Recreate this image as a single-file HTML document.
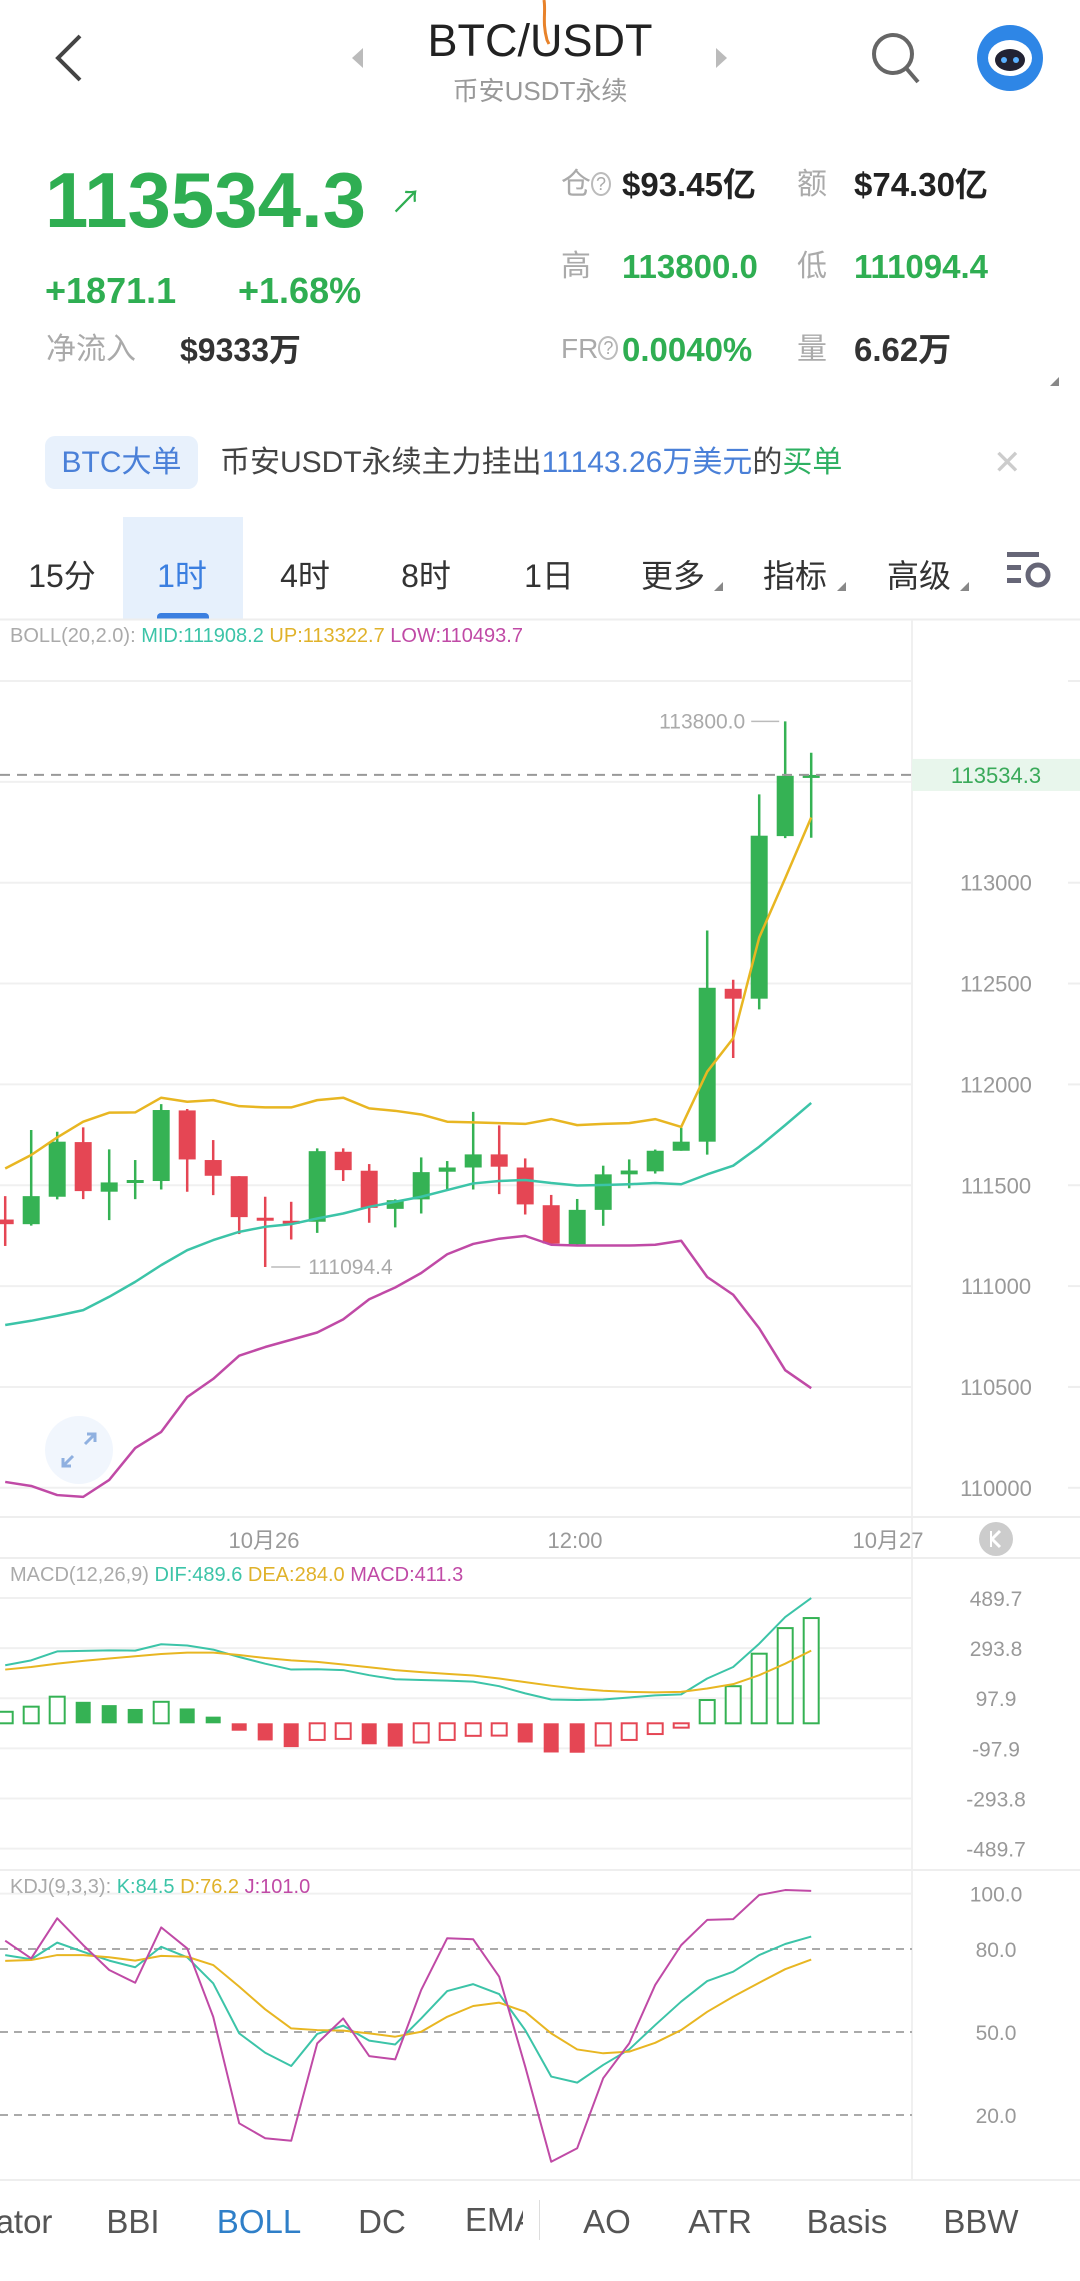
<!DOCTYPE html>
<html><head><meta charset="utf-8">
<style>
*{margin:0;padding:0;box-sizing:border-box}
body{width:1080px;height:2281px;background:#fff;position:relative;overflow:hidden;font-family:"Liberation Sans","Noto Sans CJK SC",sans-serif;color:#333}
.a{position:absolute;white-space:nowrap;line-height:1}
.g{color:#2fae52}
.lbl{color:#aaa}
.b{font-weight:bold}
.tab{position:absolute;top:551px;font-size:32px;color:#333;transform:translateX(-50%)}
.btab{position:absolute;top:2203px;font-size:33px;color:#555;transform:translateX(-50%)}
.tri{position:absolute;width:0;height:0;border-left:9px solid transparent;border-bottom:9px solid #888}
</style></head><body>
<svg class="a" style="left:0;top:0" width="1080" height="130">
  <polyline points="80,36 58,58 80,80" fill="none" stroke="#444" stroke-width="4"/>
  <polygon points="363,48 352,58 363,68" fill="#bbb"/>
  <polygon points="716,48 727,58 716,68" fill="#bbb"/>
  <path d="M544,0 C546,12 542,22 547,40 L549,44" stroke="#e8822a" stroke-width="3" fill="none"/>
  <g><circle cx="893" cy="54" r="19" fill="none" stroke="#666" stroke-width="4"/><line x1="906" y1="68" x2="918" y2="82" stroke="#666" stroke-width="4"/></g>
  <g><circle cx="1010" cy="58" r="33" fill="#2e86e6"/><ellipse cx="1010" cy="58" rx="22" ry="18" fill="#fff"/><ellipse cx="1010" cy="60" rx="15" ry="11" fill="#223"/><circle cx="1004" cy="60" r="3" fill="#5ab0ff"/><circle cx="1016" cy="60" r="3" fill="#5ab0ff"/></g>
</svg>
<div class="a" style="left:0;width:1080px;text-align:center;top:18px;font-size:45px;color:#222">BTC/USDT</div>
<div class="a" style="left:0;width:1080px;text-align:center;top:78px;font-size:26px;color:#999">币安USDT永续</div>

<div class="a g b" style="left:45px;top:161px;font-size:78px">113534.3</div>
<div class="a g" style="left:390px;top:186px;font-size:32px">↗</div>
<div class="a g b" style="left:45px;top:273px;font-size:36px">+1871.1</div>
<div class="a g b" style="left:238px;top:273px;font-size:36px">+1.68%</div>
<div class="a lbl" style="left:46px;top:335px;font-size:30px">净流入</div>
<div class="a b" style="left:180px;top:334px;font-size:32px;color:#333">$9333万</div>

<div class="a lbl" style="left:561px;top:170px;font-size:30px">仓<span style="font-size:18px;border:2px solid #bbb;border-radius:50%;padding:0 3px;vertical-align:4px">?</span></div>
<div class="a b" style="left:622px;top:168px;font-size:33px;color:#222">$93.45亿</div>
<div class="a lbl" style="left:797px;top:170px;font-size:30px">额</div>
<div class="a b" style="left:854px;top:168px;font-size:33px;color:#222">$74.30亿</div>
<div class="a lbl" style="left:561px;top:252px;font-size:30px">高</div>
<div class="a g b" style="left:622px;top:250px;font-size:33px">113800.0</div>
<div class="a lbl" style="left:797px;top:252px;font-size:30px">低</div>
<div class="a g b" style="left:854px;top:250px;font-size:33px">111094.4</div>
<div class="a lbl" style="left:561px;top:335px;font-size:28px">FR<span style="font-size:18px;border:2px solid #bbb;border-radius:50%;padding:0 3px;vertical-align:4px">?</span></div>
<div class="a g b" style="left:622px;top:333px;font-size:33px">0.0040%</div>
<div class="a lbl" style="left:797px;top:335px;font-size:30px">量</div>
<div class="a b" style="left:854px;top:333px;font-size:33px;color:#333">6.62万</div>
<div class="tri" style="left:1050px;top:377px"></div>

<div class="a" style="left:45px;top:436px;width:153px;height:53px;background:#e8f1fc;border-radius:10px;color:#4a80d8;font-size:30px;line-height:53px;text-align:center">BTC大单</div>
<div class="a" style="left:220px;top:448px;font-size:30px;color:#444">币安USDT永续主力挂出<span style="color:#4a80d8">11143.26万美元</span>的<span style="color:#2eb062">买单</span></div>
<div class="a" style="left:993px;top:446px;font-size:34px;color:#ccc">✕</div>

<div class="a" style="left:123px;top:517px;width:120px;height:103px;background:#e6f0fc"></div>
<div class="a" style="left:157px;top:613px;width:52px;height:7px;background:#3b7fe0;border-radius:4px 4px 0 0"></div>
<div class="tab" style="left:62px">15分</div>
<div class="tab" style="left:182px;color:#3b7fe0">1时</div>
<div class="tab" style="left:305px">4时</div>
<div class="tab" style="left:426px">8时</div>
<div class="tab" style="left:549px">1日</div>
<div class="tab" style="left:673px">更多</div>
<div class="tab" style="left:795px">指标</div>
<div class="tab" style="left:919px">高级</div>
<div class="tri" style="left:714px;top:582px"></div>
<div class="tri" style="left:837px;top:582px"></div>
<div class="tri" style="left:960px;top:582px"></div>
<svg class="a" style="left:1005px;top:550px" width="50" height="40">
  <rect x="2" y="2" width="32" height="5" fill="#667"/><rect x="2" y="15" width="14" height="5" fill="#667"/><rect x="2" y="28" width="14" height="5" fill="#667"/>
  <circle cx="33" cy="25" r="10" fill="none" stroke="#667" stroke-width="5"/>
</svg>

<svg id="chart" class="a" style="left:0;top:0" width="1080" height="2281">
  <line x1="0" y1="619.5" x2="1080" y2="619.5" stroke="#eee" stroke-width="2"/>
  <line x1="912" y1="620" x2="912" y2="2180" stroke="#f0f0f0" stroke-width="2"/>
  <line x1="0" y1="1517" x2="1080" y2="1517" stroke="#eee" stroke-width="2"/>
  <line x1="0" y1="1558" x2="1080" y2="1558" stroke="#eee" stroke-width="2"/>
  <line x1="0" y1="1870" x2="1080" y2="1870" stroke="#eee" stroke-width="2"/>
  <line x1="0" y1="2180" x2="1080" y2="2180" stroke="#eee" stroke-width="2"/>
  <g id="grid"></g><g id="marks"></g>
  <text x="10" y="642" font-size="20" fill="#aaa">BOLL(20,2.0): <tspan fill="#3cc4a8">MID:111908.2</tspan> <tspan fill="#e0b22a">UP:113322.7</tspan> <tspan fill="#c04aa6">LOW:110493.7</tspan></text>
  <text x="10" y="1581" font-size="20" fill="#aaa">MACD(12,26,9) <tspan fill="#3cc4a8">DIF:489.6</tspan> <tspan fill="#e0b22a">DEA:284.0</tspan> <tspan fill="#c04aa6">MACD:411.3</tspan></text>
  <text x="10" y="1893" font-size="20" fill="#aaa">KDJ(9,3,3): <tspan fill="#3cc4a8">K:84.5</tspan> <tspan fill="#e0b22a">D:76.2</tspan> <tspan fill="#c04aa6">J:101.0</tspan></text>
  <text x="264" y="1548" font-size="22" fill="#999" text-anchor="middle">10月26</text>
  <text x="575" y="1548" font-size="22" fill="#999" text-anchor="middle">12:00</text>
  <text x="888" y="1548" font-size="22" fill="#999" text-anchor="middle">10月27</text>
  <g><circle cx="996" cy="1539" r="17" fill="#ccc"/><polyline points="1000,1531 992,1539 1000,1547" fill="none" stroke="#fff" stroke-width="3"/><line x1="991" y1="1531" x2="991" y2="1547" stroke="#fff" stroke-width="2"/></g>
  <g><circle cx="79" cy="1450" r="34" fill="#eef4fc" opacity="0.8"/><path d="M87,1434 L95,1434 L95,1442 M95,1434 L85,1444 M71,1466 L63,1466 L63,1458 M63,1466 L73,1456" stroke="#8fb0e0" stroke-width="3" fill="none"/></g>
</svg>

<div class="btab" style="left:24px">ator</div>
<div class="btab" style="left:133px">BBI</div>
<div class="btab" style="left:259px;color:#2f7fc8">BOLL</div>
<div class="btab" style="left:382px">DC</div>
<div class="a" style="left:465px;top:2203px;width:58px;overflow:hidden;font-size:33px;color:#555">EMA</div>
<div class="a" style="left:539px;top:2200px;width:1px;height:40px;background:#ddd"></div>
<div class="btab" style="left:607px">AO</div>
<div class="btab" style="left:720px">ATR</div>
<div class="btab" style="left:847px">Basis</div>
<div class="btab" style="left:981px">BBW</div>

<script>
const opens=[111330,111307,111443,111714,111468,111521,111521,111871,111625,111545,111339,111324,111319,111666,111572,111383,111430,111567,111588,111653,111588,111401,111207,111378,111554,111569,111671,111716,112474,112425,113231,113530];
const closes=[111307,111446,111716,111471,111514,111526,111873,111628,111547,111342,111324,111314,111669,111575,111388,111426,111565,111588,111653,111592,111405,111211,111378,111554,111573,111671,111716,112479,112425,113233,113530,113534.3];
const highs=[111446,111774,111765,111787,111678,111625,111902,111878,111724,111545,111443,111418,111683,111683,111605,111430,111638,111620,111864,111797,111633,111452,111432,111597,111628,111677,111785,112763,112519,113438,113800,113644];
const lows=[111199,111300,111430,111431,111327,111431,111479,111468,111451,111258,111094.4,111231,111264,111521,111314,111291,111360,111473,111479,111456,111355,111205,111201,111299,111485,111558,111671,111652,112131,112372,113221,113223];
const bollUp=[111583,111650,111737,111815,111860,111861,111934,111914,111922,111892,111886,111886,111922,111934,111881,111869,111851,111815,111812,111808,111804,111828,111798,111804,111808,111828,111789,112063,112229,112728,113022,113323];
const bollMid=[110807,110828,110853,110881,110947,111021,111104,111178,111228,111269,111294,111307,111335,111360,111393,111418,111443,111476,111509,111521,111526,111511,111499,111501,111505,111511,111505,111554,111597,111691,111798,111908];
const bollLow=[110029,110009,109964,109955,110039,110197,110277,110450,110540,110655,110698,110734,110770,110835,110935,110993,111065,111158,111209,111235,111249,111205,111201,111201,111201,111205,111225,111045,110957,110791,110583,110494];
const macdHist=[45,65,104,84,71,56,84,58,26,-29,-67,-93,-65,-61,-82,-91,-75,-65,-49,-48,-75,-114,-115,-87,-65,-42,-17,91,145,272,372,411.3];
const difVals=[227,246,281,283,285,284,309,304,288,259,233,210,211,208,188,172,169,167,163,145,117,93,91,93,101,109,113,175,220,311,415,489.6];
const deaVals=[210,220,233,244,253,262,271,276,276,267,255,246,240,230,219,208,200,193,187,175,161,147,135,127,123,121,123,136,153,188,233,284];
const kVals=[77.8,76.3,82.3,79,75.8,73.4,80.8,77,67.6,49.5,42.5,37.7,49.3,52.3,46.9,45.5,54.9,64.8,67.3,63.7,50.7,33.9,31.7,38.1,43.7,52.5,61,68.4,71.8,77.8,81.8,84.5];
const dVals=[75.7,76,77.8,77.8,77,75.8,77.5,77.2,74.2,66.4,58.2,51.3,50.7,50.5,49.5,48.3,50.1,55.5,59.4,60.6,57.3,49.5,43.7,42.3,42.9,46.1,50.7,57.3,62.8,67.8,72.7,76.2];
const jVals=[83,76.6,91.1,81.4,72.4,67.8,87.8,80.2,55.5,17,11.6,10.7,45.9,54.9,41.3,40.1,65.2,83.9,83.5,70,37.5,3.1,8,33.3,45.9,67,81.4,90.5,90.8,99.5,101.3,101];
const priceTicks=[114000,113500,113000,112500,112000,111500,111000,110500,110000];
const priceTickLabels=["","","113000","112500","112000","111500","111000","110500","110000"];
const macdTicks=[489.7,293.8,97.9,-97.9,-293.8,-489.7];
const macdTickLabels=["489.7","293.8","97.9","-97.9","-293.8","-489.7"];
const kdjTicks=[100,80,50,20];
const kdjTickLabels=["100.0","80.0","50.0","20.0"];
const lastPrice=113534.3, highMark=113800.0, lowMark=111094.4;

const NS='http://www.w3.org/2000/svg';
const xAt=i=>5.2+26*i;
const yP=p=>1084.4-(p-112000)*0.2017;
const yM=v=>1723.3-v*0.2559;
const yK=v=>2032-(v-50)*2.767;
const grid=document.getElementById('grid'), marks=document.getElementById('marks');
function mk(tag,attrs,parent){const e=document.createElementNS(NS,tag);for(const k in attrs)e.setAttribute(k,attrs[k]);parent.appendChild(e);return e;}
function txt(x,y,s,attrs,parent){const e=mk('text',Object.assign({x:x,y:y},attrs),parent);e.textContent=s;return e;}

priceTicks.forEach((p,i)=>{
  const l=mk('line',{x1:0,x2:912,y1:yP(p),y2:yP(p),stroke:'#f0f0f0','stroke-width':2},grid);
  
  
  mk('line',{x1:1068,x2:1080,y1:yP(p),y2:yP(p),stroke:'#eee','stroke-width':2},grid);
  if(priceTickLabels[i]){const t=txt(996,yP(p)+8,priceTickLabels[i],{'font-size':22,fill:'#999','text-anchor':'middle'},grid);
    
    }
});
macdTicks.forEach((v,i)=>{
  if(v!==97.9 && v!==-97.9 || true){mk('line',{x1:0,x2:912,y1:yM(v),y2:yM(v),stroke:'#f0f0f0','stroke-width':2},grid);}
  const t=txt(996,yM(v)+8,macdTickLabels[i],{'font-size':21,fill:'#999','text-anchor':'middle'},grid);
  
  
});
kdjTicks.forEach((v,i)=>{
  const attrs={x1:0,x2:912,y1:yK(v),y2:yK(v),'stroke-width':2};
  if(v===100){attrs.stroke='#f0f0f0';}else{attrs.stroke='#aaa';attrs['stroke-dasharray']='8,6';}
  mk('line',attrs,grid);
  const t=txt(996,yK(v)+8,kdjTickLabels[i],{'font-size':21,fill:'#999','text-anchor':'middle'},grid);
  
  
});

const GREEN='#35b254', RED='#e54654';
opens.forEach((o,i)=>{
  const c=closes[i], up=c>=o, col=up?GREEN:RED, x=xAt(i);
  const w=mk('line',{x1:x,x2:x,y1:yP(highs[i]),y2:yP(lows[i]),stroke:col,'stroke-width':2.5},marks);
  
  
  const top=yP(Math.max(o,c)), h=Math.max(3,yP(Math.min(o,c))-top);
  const b=mk('rect',{x:x-8.5,y:top,width:17,height:h,fill:col},marks);
  
  
});
function poly(vals,yf,color,name,w){
  const p=mk('polyline',{points:vals.map((v,i)=>xAt(i)+','+yf(v)).join(' '),fill:'none',stroke:color,'stroke-width':w||2.5,'stroke-linejoin':'round'},marks);
  
  
}
poly(bollUp,yP,'#e8b622','boll-upper-line');
poly(bollMid,yP,'#3cc4a8','boll-mid-line');
poly(bollLow,yP,'#c04aa6','boll-lower-line');

// current price line + label
const cl=mk('line',{x1:0,x2:912,y1:yP(lastPrice),y2:yP(lastPrice),stroke:'#999','stroke-width':2,'stroke-dasharray':'10,7'},marks);


const cb=mk('rect',{x:912,y:yP(lastPrice)-16,width:168,height:32,fill:'#e8f6ec'},marks);


const ct=txt(996,yP(lastPrice)+8,lastPrice.toFixed(1),{'font-size':22,fill:'#3aaa5a','text-anchor':'middle'},marks);


// high / low marks
const hiI=highs.indexOf(highMark), loI=lows.indexOf(lowMark);
mk('line',{x1:xAt(hiI)-34,x2:xAt(hiI)-6,y1:yP(highMark),y2:yP(highMark),stroke:'#bbb','stroke-width':1.5},marks);
const ht=txt(xAt(hiI)-40,yP(highMark)+7,highMark.toFixed(1),{'font-size':21,fill:'#aaa','text-anchor':'end'},marks);


mk('line',{x1:xAt(loI)+6,x2:xAt(loI)+35,y1:yP(lowMark),y2:yP(lowMark),stroke:'#bbb','stroke-width':1.5},marks);
const lt=txt(xAt(loI)+43,yP(lowMark)+7,lowMark.toFixed(1),{'font-size':21,fill:'#aaa'},marks);



// MACD histogram
macdHist.forEach((v,i)=>{
  const prev=i>0?macdHist[i-1]:0, col=v>=0?GREEN:RED;
  const hollow=i===0?true:(v>prev);
  const y0=yM(0), y1=yM(v), top=Math.min(y0,y1), h=Math.max(2,Math.abs(y1-y0));
  const r=mk('rect',{x:xAt(i)-7.5,y:top,width:15,height:h,fill:hollow?'#fff':col,stroke:col,'stroke-width':hollow?2:0},marks);
  
  
});
poly(difVals,yM,'#3cc4a8','macd-dif-line',2);
poly(deaVals,yM,'#e8b622','macd-dea-line',2);
poly(kVals,yK,'#3cc4a8','kdj-k-line',2);
poly(dVals,yK,'#e8b622','kdj-d-line',2);
poly(jVals,yK,'#c04aa6','kdj-j-line',2);
</script>
</body></html>
